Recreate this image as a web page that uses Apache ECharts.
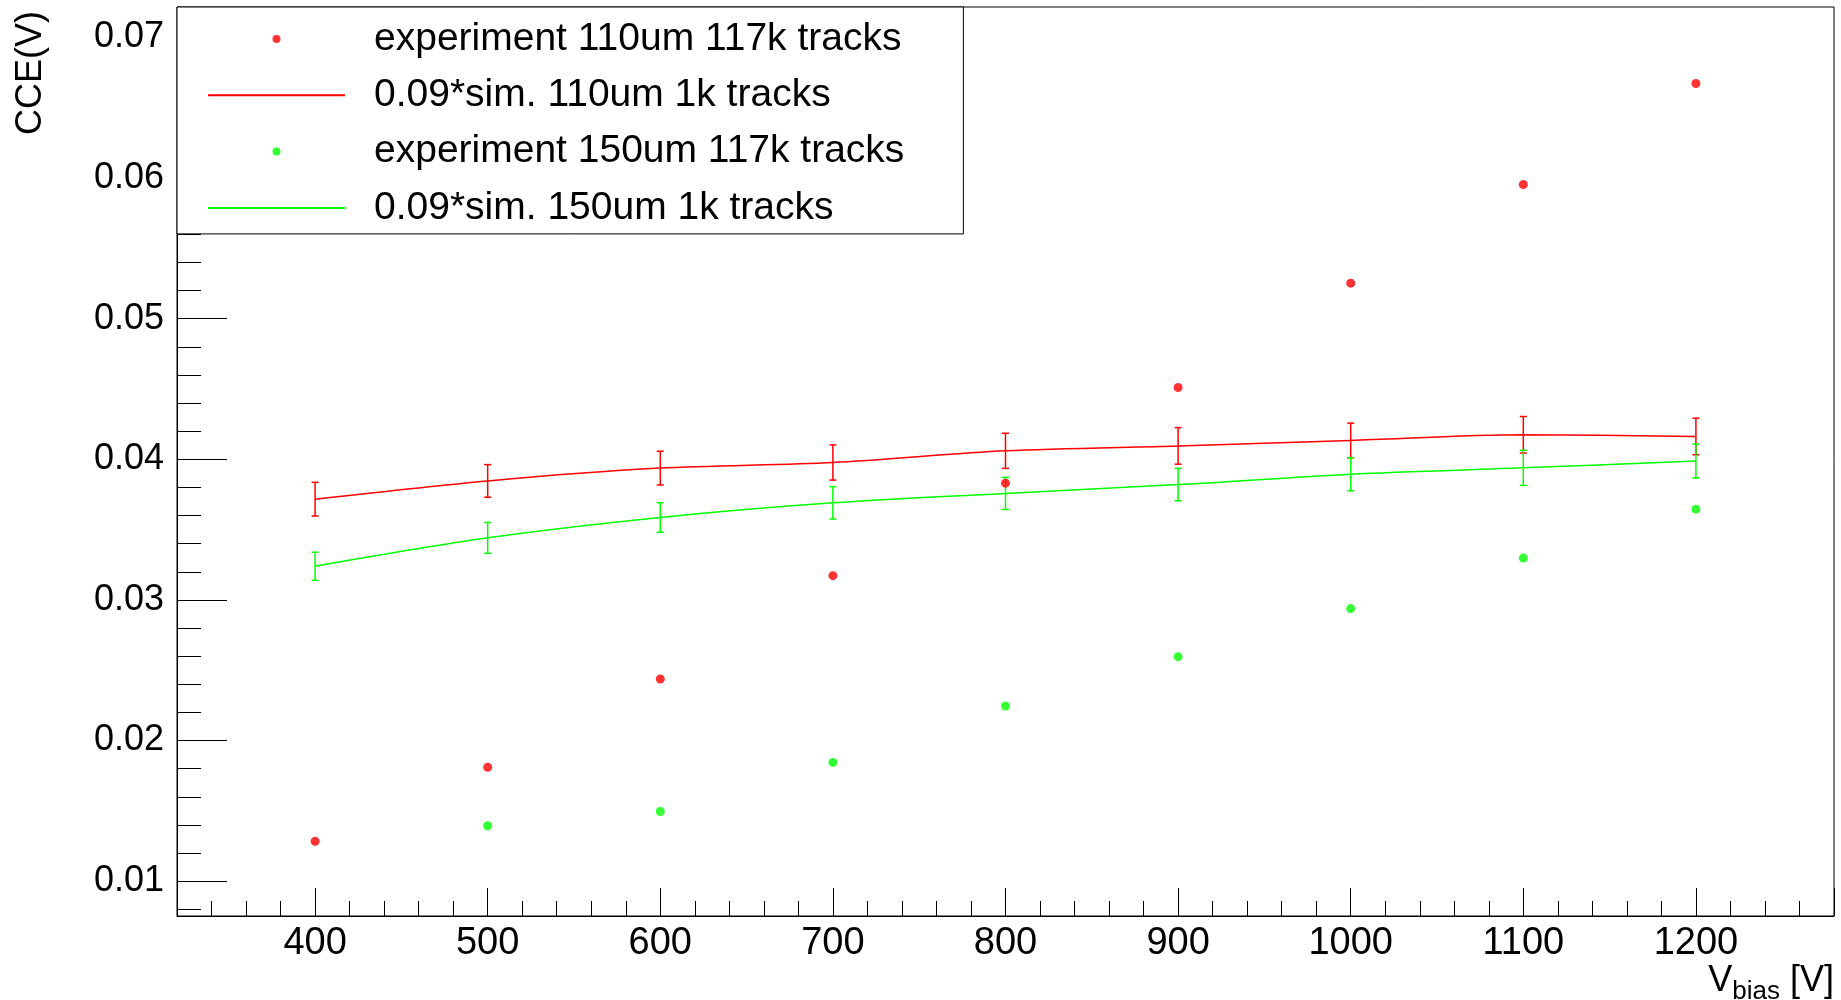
<!DOCTYPE html>
<html>
<head>
<meta charset="utf-8">
<script src="https://cdn.jsdelivr.net/npm/echarts@6/dist/echarts.min.js"></script>
<style>
html,body{margin:0;padding:0;background:#fff;}
#chart{width:1841px;height:1000px;}
</style>
</head>
<body>
<div id="chart"></div>
<script>
// ---- data ----
const voltages = [400, 500, 600, 700, 800, 900, 1000, 1100, 1200];
const exp110 = [0.01283, 0.0181, 0.02437, 0.03172, 0.0383, 0.0451, 0.05252, 0.05954, 0.06672];
const sim110 = [0.03716, 0.03846, 0.03937, 0.03977, 0.0406, 0.04095, 0.04134, 0.04174, 0.04162];
const sim110Err = [0.0012, 0.00116, 0.0012, 0.00125, 0.00125, 0.0013, 0.00123, 0.0013, 0.0013];
const exp150 = [null, 0.01394, 0.01495, 0.01844, 0.02245, 0.02596, 0.02938, 0.03297, 0.03645];
const sim150 = [0.03239, 0.03441, 0.03586, 0.0369, 0.03757, 0.0382, 0.03894, 0.03939, 0.03987];
const sim150Err = [0.001, 0.0011, 0.00105, 0.00115, 0.00114, 0.00115, 0.00118, 0.00125, 0.0012];
const seriesNames = ['experiment 110um 117k tracks', '0.09*sim. 110um 1k tracks',
                     'experiment 150um 117k tracks', '0.09*sim. 150um 1k tracks'];
const xRange = [320, 1280];
const yRange = [0.00752, 0.07216];

// ---- helpers ----
function pairs(xs, ys) {
  const out = [];
  xs.forEach((x, i) => { if (ys[i] !== null && ys[i] !== undefined) out.push([x, ys[i]]); });
  return out;
}
function errTriples(xs, ys, es) {
  return xs.map((x, i) => [x, ys[i], es[i]]);
}
function errRender(color) {
  return function (params, api) {
    const x = api.value(0), y = api.value(1), e = api.value(2);
    const top = api.coord([x, y + e]);
    const bot = api.coord([x, y - e]);
    const cap = 3.5;
    const st = { stroke: color, lineWidth: 1.5 };
    return {
      type: 'group',
      children: [
        { type: 'line', shape: { x1: top[0], y1: top[1], x2: bot[0], y2: bot[1] }, style: st },
        { type: 'line', shape: { x1: top[0] - cap, y1: top[1], x2: top[0] + cap, y2: top[1] }, style: st },
        { type: 'line', shape: { x1: bot[0] - cap, y1: bot[1], x2: bot[0] + cap, y2: bot[1] }, style: st }
      ]
    };
  };
}

const FONT = "'Liberation Sans', Arial, sans-serif";
const RED = '#ff0000', GREEN = '#00ff00';

const chart = echarts.init(document.getElementById('chart'), null, { renderer: 'canvas' });
chart.setOption({
  animation: false,
  backgroundColor: '#fff',
  textStyle: { fontFamily: FONT },
  grid: { left: 177, right: 7, top: 7, bottom: 84, show: true, borderColor: '#000', borderWidth: 1, backgroundColor: 'transparent' },
  xAxis: {
    type: 'value', min: xRange[0], max: xRange[1], splitNumber: 10,
    axisLine: { show: true, lineStyle: { color: '#000', width: 1 } },
    axisTick: { show: true, inside: true, length: 28, lineStyle: { color: '#000', width: 1 } },
    minorTick: { show: true, splitNumber: 5, length: 15, lineStyle: { color: '#000', width: 1 } },
    splitLine: { show: false },
    axisLabel: { show: true, margin: 9, fontSize: 38, color: '#000', fontFamily: FONT, showMinLabel: false, showMaxLabel: false,
      formatter: function (v) { return String(v); } }
  },
  yAxis: {
    type: 'value', min: yRange[0], max: yRange[1], splitNumber: 7,
    axisLine: { show: true, lineStyle: { color: '#000', width: 1 } },
    axisTick: { show: true, inside: true, length: 50, lineStyle: { color: '#000', width: 1 } },
    minorTick: { show: true, splitNumber: 5, length: 24, lineStyle: { color: '#000', width: 1 } },
    splitLine: { show: false },
    axisLabel: { show: true, margin: 13, fontSize: 36, color: '#000', fontFamily: FONT, showMinLabel: false, showMaxLabel: false,
      formatter: function (v) { return String(+v.toFixed(4)); } }
  },
  legend: {
    orient: 'vertical', left: 177, top: 7,
    padding: [12, 59, 6, 30],
    itemWidth: 137, itemHeight: 8, itemGap: 16.3,
    borderColor: '#000', borderWidth: 1, backgroundColor: '#fff',
    data: [
      { name: seriesNames[0] },
      { name: seriesNames[1], itemStyle: { opacity: 0 } },
      { name: seriesNames[2] },
      { name: seriesNames[3], itemStyle: { opacity: 0 } }
    ],
    selectedMode: false,
    textStyle: { fontSize: 39, lineHeight: 40, color: '#000', fontFamily: FONT, padding: [0, 0, 0, 24] }
  },
  graphic: [
    { type: 'text', x: 31, y: 11, rotation: Math.PI / 2,
      style: { text: 'CCE(V)', font: "36px " + FONT, fill: '#000', textAlign: 'right', textVerticalAlign: 'middle' } },
    { type: 'text', x: 1834, y: 981,
      style: { text: '{a|V}{b|bias}{a| [V]}', fill: '#000', textAlign: 'right', textVerticalAlign: 'middle',
        rich: { a: { fontSize: 36, fontFamily: FONT, fill: '#000', lineHeight: 40 },
                b: { fontSize: 26, fontFamily: FONT, fill: '#000', lineHeight: 40, padding: [22, 0, 0, 0] } } } }
  ],
  series: [
    { name: seriesNames[0], type: 'scatter', data: pairs(voltages, exp110), symbol: 'circle', symbolSize: 9,
      itemStyle: { color: RED }, z: 3 },
    { name: seriesNames[1], type: 'line', data: pairs(voltages, sim110), smooth: 0.3, symbol: 'none',
      lineStyle: { color: RED, width: 1.5 }, itemStyle: { color: RED }, z: 2 },
    { name: 'err110', type: 'custom', data: errTriples(voltages, sim110, sim110Err), renderItem: errRender(RED), z: 2 },
    { name: seriesNames[2], type: 'scatter', data: pairs(voltages, exp150), symbol: 'circle', symbolSize: 9,
      itemStyle: { color: GREEN }, z: 3 },
    { name: seriesNames[3], type: 'line', data: pairs(voltages, sim150), smooth: 0.3, symbol: 'none',
      lineStyle: { color: GREEN, width: 1.5 }, itemStyle: { color: GREEN }, z: 2 },
    { name: 'err150', type: 'custom', data: errTriples(voltages, sim150, sim150Err), renderItem: errRender(GREEN), z: 2 }
  ]
});
</script>
</body>
</html>
